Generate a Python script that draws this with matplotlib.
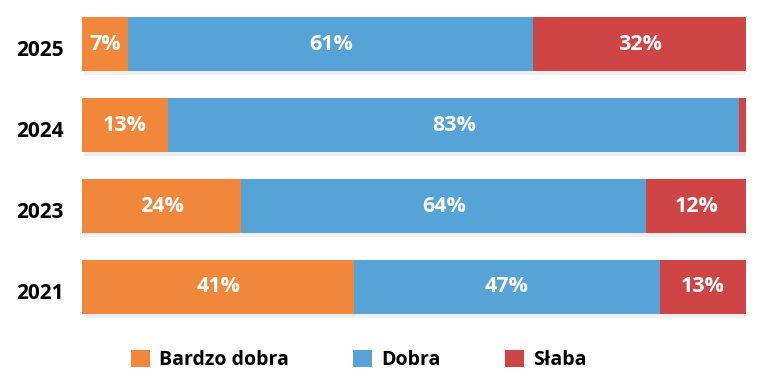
import matplotlib.pyplot as plt
import matplotlib.patheffects as pe
import matplotlib.transforms as mtransforms
from matplotlib.patches import Patch

plt.rcParams["font.family"] = ["Open Sans", "DejaVu Sans"]

# rows from top to bottom
years = ["2025", "2024", "2023", "2021"]
series = ["Bardzo dobra", "Dobra", "Słaba"]
# segment widths as drawn in the picture
bardzo_dobra = [7, 13, 24, 41]
dobra = [61, 86, 61, 46]
slaba = [32, 1, 15, 13]
# labels as printed on the bars
bardzo_dobra_lbl = ["7%", "13%", "24%", "41%"]
dobra_lbl = ["61%", "83%", "64%", "47%"]
slaba_lbl = ["32%", "", "12%", "13%"]

colors = ["#F0873A", "#56A3D7", "#CF4444"]

fig = plt.figure(figsize=(7.64, 3.82), dpi=100)
ax = fig.add_axes([0.1073, 0.1427, 0.8691, 0.848])

ypos = list(range(len(years)))[::-1]
shadow = [pe.withSimplePatchShadow(offset=(1.5, -2.5), shadow_rgbFace="#999999", alpha=0.15)]

left = [0] * len(years)
for vals, lbls, col in zip([bardzo_dobra, dobra, slaba],
                           [bardzo_dobra_lbl, dobra_lbl, slaba_lbl], colors):
    bars = ax.barh(ypos, vals, left=left, height=0.67, color=col,
                   edgecolor="none", path_effects=shadow)
    ax.bar_label(bars, labels=lbls, label_type="center", color="white",
                 fontsize=15.5, fontweight="bold")
    left = [l + v for l, v in zip(left, vals)]

ax.set_xlim(0, 100)
ax.set_ylim(-0.5, len(years) - 0.5)
ax.set_yticks(ypos)
ax.set_yticklabels(years, fontsize=15, fontweight="bold")
ax.tick_params(axis="y", length=0, pad=13)
shift = mtransforms.ScaledTranslation(0, -3 / 72, fig.dpi_scale_trans)
for t in ax.get_yticklabels():
    t.set_transform(t.get_transform() + shift)
ax.set_xticks([])
for s in ax.spines.values():
    s.set_visible(False)

handles = [Patch(facecolor=c, edgecolor="none") for c in colors]
fig.legend(handles, series, loc="center", bbox_to_anchor=(0.47, 0.058),
           ncol=3, frameon=False, handlelength=0.95, handleheight=0.95,
           handletextpad=0.5, columnspacing=3.3,
           prop={"size": 14, "weight": "bold"})

fig.savefig("out.png", dpi=100)
